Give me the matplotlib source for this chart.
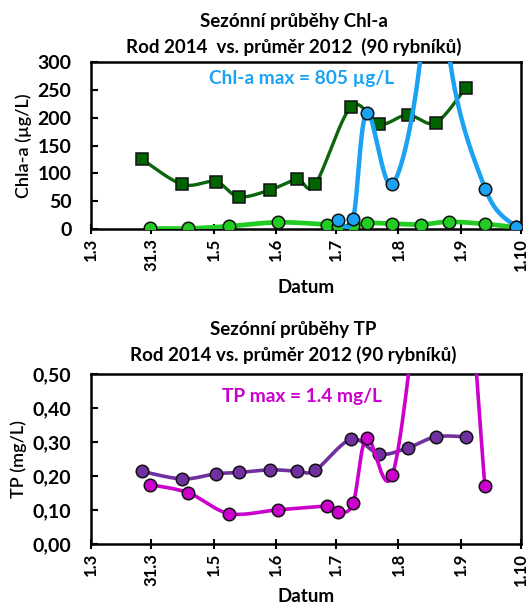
import numpy as np
import matplotlib
matplotlib.use("Agg")
import matplotlib.pyplot as plt

plt.rcParams['font.family'] = ['Lato', 'DejaVu Sans']

# Day offsets from 1 March 2014
tick_days = [0, 30, 61, 92, 122, 153, 184, 214]
tick_labels = ["1.3", "31.3", "1.5", "1.6", "1.7", "1.8", "1.9", "1.10"]

# 2012 mean of 90 ponds (sampling days)
days_2012 = [25.5, 45.5, 62.0, 73.5, 89.0, 102.5, 111.5, 129.5, 143.5, 157.5, 171.5, 186.5]
chla_2012 = [125, 80, 85, 58, 70, 89, 80, 220, 188, 205, 191, 254]
tp_2012 = [0.213, 0.191, 0.206, 0.210, 0.218, 0.214, 0.216, 0.308, 0.264, 0.282, 0.315, 0.315]

# Rod 2014 sampling days
days_2014 = [29.5, 48.5, 68.8, 93.0, 117.2, 123.0, 130.4, 137.2, 150.0, 164.3, 178.0, 196.2, 211.4]
chla_green = [1, 1, 5, 12, 8, 5, 6, 11, 9.5, 8, 13, 9, 3]

# Rod 2014 Chl-a (blue), peak 805 ug/L
chla_blue_days = [123.0, 130.4, 137.2, 150.0, 164.3, 171.2, 178.0, 196.2, 211.4]
chla_blue = [15.5, 18, 209, 80, 320, 805, 320, 72, 4]

# Rod 2014 TP (magenta), peak 1.4 mg/L
tp_days = [29.5, 48.5, 68.8, 93.0, 117.2, 123.0, 130.4, 137.2, 150.0, 164.3, 178.0, 196.0]
tp_2014 = [0.174, 0.150, 0.089, 0.100, 0.110, 0.094, 0.119, 0.312, 0.203, 0.80, 1.40, 0.170]

DKGREEN = "#0B650B"
LTGREEN = "#22CC22"
BLUE = "#1CA2F2"
PURPLE = "#7030A0"
MAGENTA = "#CC00CC"


def smooth(x, y, n=30):
    """Bezier smoothing through the points (spreadsheet-style smoothed line)."""
    pts = np.column_stack([x, y]).astype(float)
    P = np.vstack([pts[0], pts, pts[-1]])
    out = []
    t = np.linspace(0, 1, n)[:, None]
    for i in range(1, len(P) - 2):
        p0, p1, p2, p3 = P[i - 1], P[i], P[i + 1], P[i + 2]
        c1 = p1 + (p2 - p0) / 6.0
        c2 = p2 - (p3 - p1) / 6.0
        seg = (1 - t) ** 3 * p1 + 3 * (1 - t) ** 2 * t * c1 + 3 * (1 - t) * t ** 2 * c2 + t ** 3 * p2
        out.append(seg if i == 1 else seg[1:])
    s = np.vstack(out)
    return s[:, 0], s[:, 1]


def series(ax, x, y, color, lw, marker, mfc, ms, z):
    sx, sy = smooth(x, y)
    ax.plot(sx, sy, color=color, lw=lw, zorder=z, solid_capstyle='round')
    ax.plot(x, y, ls='none', marker=marker, mfc=mfc, mec='#111111', mew=1.1, ms=ms, zorder=z + 0.5)


def style_axes(ax, ylim, yticks, yfmt, xlabelpad):
    ax.set_xlim(0, 214)
    ax.set_ylim(*ylim)
    ax.set_xticks(tick_days)
    ax.set_xticklabels(tick_labels, rotation=90, fontsize=12, fontweight='bold')
    ax.set_yticks(yticks)
    ax.set_yticklabels([yfmt(v) for v in yticks], fontsize=14, fontweight='bold')
    for sp in ax.spines.values():
        sp.set_linewidth(1.8)
        sp.set_color('black')
    ax.tick_params(axis='x', direction='inout', length=7, width=1.5, pad=3)
    ax.tick_params(axis='y', direction='in', length=5, width=1.5, pad=14)
    ax.set_xlabel("Datum", fontsize=13.5, fontweight='bold', labelpad=xlabelpad)


fig = plt.figure(figsize=(5.29, 6.11), dpi=100)

# Chl-a panel
ax1 = fig.add_axes([0.172, 0.6252, 0.813, 0.2733])
series(ax1, days_2012, chla_2012, DKGREEN, 2.4, 's', '#006400', 8.5, 3)
series(ax1, days_2014, chla_green, LTGREEN, 3.4, 'o', LTGREEN, 9, 4)
series(ax1, chla_blue_days, chla_blue, BLUE, 3.2, 'o', BLUE, 9, 5)
style_axes(ax1, (0, 300), [0, 50, 100, 150, 200, 250, 300], lambda v: f"{v:d}", 6)
ax1.set_ylabel("Chla-a (µg/L)", fontsize=13, fontweight='semibold', labelpad=4)
ax1.text(0.49, 0.90, "Chl-a max = 805 µg/L", transform=ax1.transAxes, color=BLUE,
         fontsize=13.8, fontweight='bold', ha='center', va='center')
fig.text(0.555, 1 - 21 / 611, "Sezónní průběhy Chl-a", ha='center', va='center',
         fontsize=13.5, fontweight='bold')
fig.text(0.555, 1 - 47 / 611, "Rod 2014  vs. průměr 2012  (90 rybníků)", ha='center', va='center',
         fontsize=13.5, fontweight='bold')

# TP panel
ax2 = fig.add_axes([0.172, 0.11, 0.813, 0.2779])
series(ax2, days_2012, tp_2012, PURPLE, 2.6, 'o', PURPLE, 9, 3)
series(ax2, tp_days, tp_2014, MAGENTA, 2.6, 'o', MAGENTA, 9, 4)
style_axes(ax2, (0, 0.5), [0, 0.1, 0.2, 0.3, 0.4, 0.5], lambda v: f"{v:.2f}".replace('.', ','), 2)
ax2.set_ylabel("TP (mg/L)", fontsize=13, fontweight='semibold', labelpad=4)
ax2.text(0.49, 0.866, "TP max = 1.4 mg/L", transform=ax2.transAxes, color=MAGENTA,
         fontsize=13.8, fontweight='bold', ha='center', va='center')
fig.text(0.555, 1 - 329 / 611, "Sezónní průběhy TP", ha='center', va='center',
         fontsize=13.5, fontweight='bold')
fig.text(0.555, 1 - 355 / 611, "Rod 2014 vs. průměr 2012 (90 rybníků)", ha='center', va='center',
         fontsize=13.5, fontweight='bold')

fig.savefig("out.png", dpi=100)
